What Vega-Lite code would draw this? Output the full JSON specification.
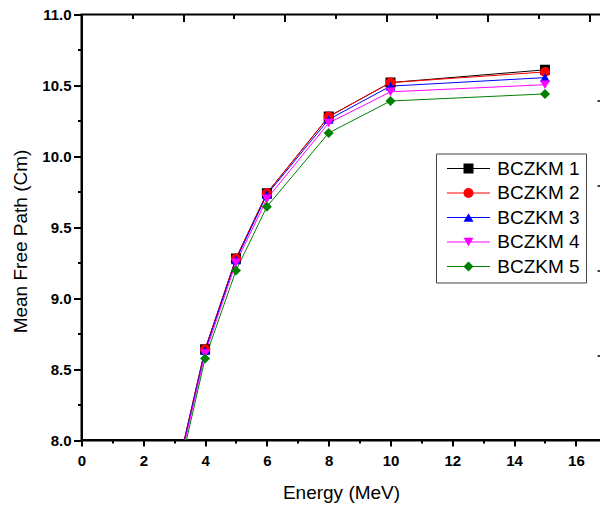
{
  "$schema": "https://vega.github.io/schema/vega-lite/v6.json",
  "width": 520.5,
  "height": 425.5,
  "autosize": {"type": "none"},
  "padding": {"left": 81.5, "top": 14.5, "right": -2, "bottom": 67},
  "background": "white",
  "config": {
    "view": {"stroke": "black", "strokeWidth": 2},
    "axis": {
      "labelFont": "Liberation Sans", "labelFontWeight": "bold", "labelFontSize": 15, "labelColor": "black",
      "titleFont": "Liberation Sans", "titleFontWeight": "normal", "titleFontSize": 19, "titleColor": "black",
      "domainColor": "black", "domainWidth": 2, "tickColor": "black", "tickWidth": 2, "grid": false,
      "labelOverlap": false, "labelFlush": false
    }
  },
  "data": {
    "values": [
      {"Energy": 3, "MFP": 7.69, "Series": "BCZKM 1"},
      {"Energy": 4, "MFP": 8.64, "Series": "BCZKM 1"},
      {"Energy": 5, "MFP": 9.28, "Series": "BCZKM 1"},
      {"Energy": 6, "MFP": 9.74, "Series": "BCZKM 1"},
      {"Energy": 8, "MFP": 10.28, "Series": "BCZKM 1"},
      {"Energy": 10, "MFP": 10.52, "Series": "BCZKM 1"},
      {"Energy": 15, "MFP": 10.61, "Series": "BCZKM 1"},
      {"Energy": 3, "MFP": 7.69, "Series": "BCZKM 2"},
      {"Energy": 4, "MFP": 8.64, "Series": "BCZKM 2"},
      {"Energy": 5, "MFP": 9.28, "Series": "BCZKM 2"},
      {"Energy": 6, "MFP": 9.74, "Series": "BCZKM 2"},
      {"Energy": 8, "MFP": 10.28, "Series": "BCZKM 2"},
      {"Energy": 10, "MFP": 10.52, "Series": "BCZKM 2"},
      {"Energy": 15, "MFP": 10.595, "Series": "BCZKM 2"},
      {"Energy": 3, "MFP": 7.68, "Series": "BCZKM 3"},
      {"Energy": 4, "MFP": 8.63, "Series": "BCZKM 3"},
      {"Energy": 5, "MFP": 9.27, "Series": "BCZKM 3"},
      {"Energy": 6, "MFP": 9.73, "Series": "BCZKM 3"},
      {"Energy": 8, "MFP": 10.26, "Series": "BCZKM 3"},
      {"Energy": 10, "MFP": 10.495, "Series": "BCZKM 3"},
      {"Energy": 15, "MFP": 10.555, "Series": "BCZKM 3"},
      {"Energy": 3, "MFP": 7.66, "Series": "BCZKM 4"},
      {"Energy": 4, "MFP": 8.61, "Series": "BCZKM 4"},
      {"Energy": 5, "MFP": 9.25, "Series": "BCZKM 4"},
      {"Energy": 6, "MFP": 9.70, "Series": "BCZKM 4"},
      {"Energy": 8, "MFP": 10.235, "Series": "BCZKM 4"},
      {"Energy": 10, "MFP": 10.455, "Series": "BCZKM 4"},
      {"Energy": 15, "MFP": 10.505, "Series": "BCZKM 4"},
      {"Energy": 3, "MFP": 7.62, "Series": "BCZKM 5"},
      {"Energy": 4, "MFP": 8.575, "Series": "BCZKM 5"},
      {"Energy": 5, "MFP": 9.195, "Series": "BCZKM 5"},
      {"Energy": 6, "MFP": 9.645, "Series": "BCZKM 5"},
      {"Energy": 8, "MFP": 10.165, "Series": "BCZKM 5"},
      {"Energy": 10, "MFP": 10.39, "Series": "BCZKM 5"},
      {"Energy": 15, "MFP": 10.44, "Series": "BCZKM 5"}
    ]
  },
  "layer": [
    {
      "mark": {"type": "line", "strokeWidth": 1, "clip": true},
      "encoding": {
        "x": {
          "field": "Energy", "type": "quantitative",
          "scale": {"domain": [0, 16.845], "nice": false, "zero": false},
          "axis": {
            "orient": "bottom",
            "values": [0, 1, 2, 3, 4, 5, 6, 7, 8, 9, 10, 11, 12, 13, 14, 15, 16],
            "labelExpr": "datum.value % 2 == 0 ? datum.label : ''",
            "tickSize": 6,
            "tickDash": {"condition": {"test": "datum.value % 2 == 0", "value": []}, "value": [3, 20]},
            "labelPadding": 7,
            "title": "Energy (MeV)",
            "titleX": 259.5,
            "titleY": 58,
            "titleBaseline": "alphabetic"
          }
        },
        "y": {
          "field": "MFP", "type": "quantitative",
          "scale": {"domain": [8, 11], "nice": false, "zero": false},
          "axis": {
            "orient": "left",
            "values": [8, 8.25, 8.5, 8.75, 9, 9.25, 9.5, 9.75, 10, 10.25, 10.5, 10.75, 11],
            "labelExpr": "(datum.value * 4) % 2 == 0 ? format(datum.value, '.1f') : ''",
            "tickSize": 8,
            "tickDash": {"condition": {"test": "(datum.value * 4) % 2 == 0", "value": []}, "value": [4, 20]},
            "labelPadding": 2.5,
            "title": "Mean Free Path (Cm)",
            "titleX": -55,
            "titleY": 226.5,
            "titleAngle": 270,
            "titleAlign": "center",
            "titleBaseline": "alphabetic"
          }
        },
        "stroke": {
          "field": "Series", "type": "nominal",
          "scale": {"range": ["#000000", "#ff0000", "#0000ff", "#ff00ff", "#008000"]},
          "legend": {
            "orient": "none", "legendX": 354.5, "legendY": 139, "title": null,
            "padding": 5.5, "symbolType": "M-5.375,0H5.375", "symbolSize": 64,
            "symbolStrokeWidth": 1, "symbolOffset": 17.5, "labelOffset": 19.3,
            "labelFont": "Liberation Sans", "labelFontSize": 19, "labelOpacity": 0,
            "rowPadding": 4.5
          }
        }
      }
    },
    {
      "mark": {"type": "point", "filled": true, "opacity": 1, "size": 100, "clip": true},
      "encoding": {
        "x": {
          "field": "Energy", "type": "quantitative",
          "scale": {"domain": [0, 16.845], "nice": false, "zero": false},
          "axis": {
            "orient": "top",
            "values": [1.6425, 3.285, 4.9275, 6.57, 8.2125, 9.855, 11.4975, 13.14, 14.7825, 16.425],
            "labels": false,
            "domain": false,
            "offset": -7,
            "tickSize": 7,
            "tickDash": {"condition": {"test": "indexof([1.6425, 4.9275, 8.2125, 11.4975, 14.7825], datum.value) >= 0", "value": [0, 3, 4, 20]}, "value": []},
            "title": null
          }
        },
        "y": {
          "field": "MFP", "type": "quantitative",
          "scale": {"domain": [8, 11], "nice": false, "zero": false},
          "axis": {
            "orient": "right",
            "values": [8.599, 9.197, 9.796, 10.394],
            "labels": false,
            "domain": false,
            "tickSize": -5,
            "tickWidth": 1.5,
            "title": null
          }
        },
        "color": {
          "field": "Series", "type": "nominal",
          "scale": {"domain": ["BCZKM 1", "BCZKM 2", "BCZKM 3", "BCZKM 4", "BCZKM 5"], "range": ["#000000", "#ff0000", "#0000ff", "#ff00ff", "#008000"]},
          "legend": {
            "orient": "none", "legendX": 354.5, "legendY": 139, "title": null,
            "strokeColor": "#444444", "padding": 5.5,
            "symbolSize": 100, "symbolStrokeWidth": 1, "symbolOffset": 17.5, "labelOffset": 19.3,
            "labelFont": "Liberation Sans", "labelFontSize": 19, "labelColor": "black",
            "rowPadding": 4.5
          }
        },
        "shape": {
          "field": "Series", "type": "nominal",
          "scale": {"domain": ["BCZKM 1", "BCZKM 2", "BCZKM 3", "BCZKM 4", "BCZKM 5"], "range": ["square", "circle", "triangle-up", "triangle-down", "diamond"]},
          "legend": {
            "orient": "none", "legendX": 354.5, "legendY": 139, "title": null,
            "strokeColor": "#444444", "padding": 5.5,
            "symbolSize": 100, "symbolStrokeWidth": 1, "symbolOffset": 17.5, "labelOffset": 19.3,
            "labelFont": "Liberation Sans", "labelFontSize": 19, "labelColor": "black",
            "rowPadding": 4.5
          }
        }
      }
    }
  ],
  "resolve": {"axis": {"x": "independent", "y": "independent"}}
}
